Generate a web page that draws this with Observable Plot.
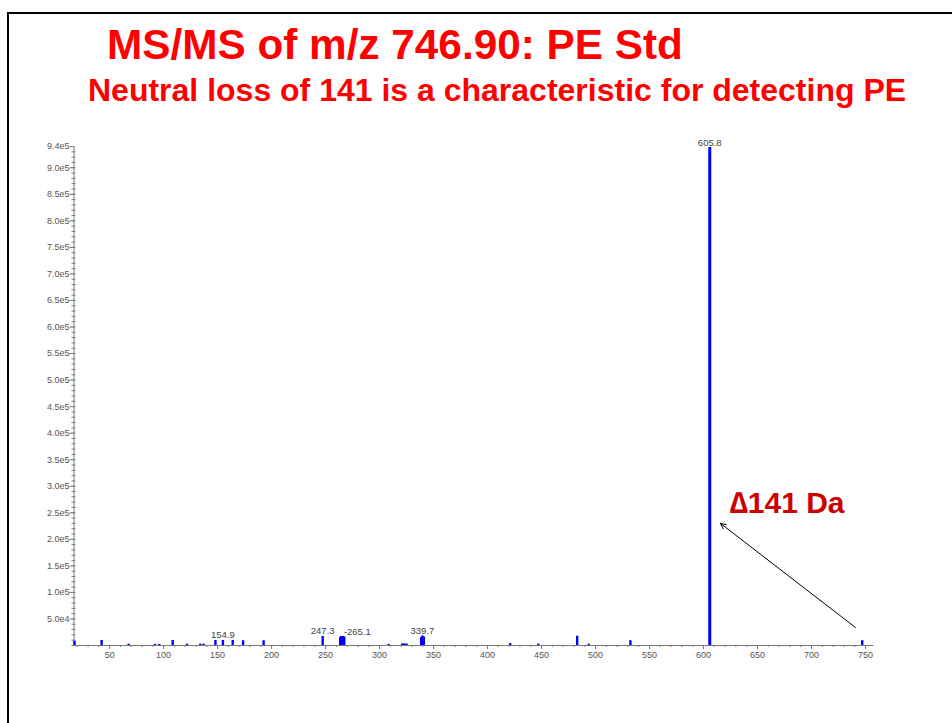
<!DOCTYPE html>
<html>
<head>
<meta charset="utf-8">
<script src="https://cdn.jsdelivr.net/npm/d3@7"></script>
<script src="https://cdn.jsdelivr.net/npm/@observablehq/plot@0.6"></script>
<style>
  html, body { margin: 0; padding: 0; background: #fff; }
  #page { position: relative; width: 952px; height: 723px; overflow: hidden; background: #fff; font-family: "Liberation Sans", Arial, sans-serif; }
  #frame { position: absolute; left: 7px; top: 12px; width: 960px; height: 720px; border-top: 2px solid #000; border-left: 2px solid #000; }
  #title { position: absolute; left: 107px; top: 24px; font-size: 42.3px; line-height: 42px; font-weight: bold; color: #ff0000; white-space: nowrap; }
  #subtitle { position: absolute; left: 88px; top: 74px; font-size: 32px; line-height: 32px; font-weight: bold; color: #ff0000; white-space: nowrap; }
  #chart { position: absolute; left: 0; top: 115px; }
</style>
</head>
<body>
<div id="page">
  <div id="frame"></div>
  <div id="title">MS/MS of m/z 746.90: PE Std</div>
  <div id="subtitle">Neutral loss of 141 is a characteristic for detecting PE</div>
  <div id="chart"></div>
</div>
<script>
// Peak list (m/z, intensity in counts)
const mz = [17.5, 42.6, 67.6, 92, 96, 108.4, 121.7, 134, 137, 148, 154.9, 164, 173.6, 192.6,
            247.3, 263.5, 264.5, 265.1, 266.2, 267.3, 308.4, 321, 323, 325, 338.5, 339.7, 341,
            421, 447, 483, 493.7, 532.3, 605.8, 747];
const intensity = [8000, 9500, 2500, 2000, 2000, 9500, 2500, 2500, 2500, 9500, 9500, 9500, 9000, 9000,
                   17000, 15000, 17000, 17000, 17000, 16000, 2000, 3000, 3000, 2500, 15000, 18000, 16000,
                   3500, 2500, 17500, 2500, 9000, 938000, 9000];

// Labelled peaks
const labelMz = [154.9, 247.3, 339.7, 605.8];
const labelText = ["154.9", "247.3", "339.7", "605.8"];
const leaderLabelMz = [265.1];
const leaderLabelText = ["-265.1"];

// Axis ticks
const yTicks = [5e4, 1e5, 1.5e5, 2e5, 2.5e5, 3e5, 3.5e5, 4e5, 4.5e5, 5e5, 5.5e5, 6e5, 6.5e5, 7e5, 7.5e5, 8e5, 8.5e5, 9e5, 9.4e5];
const yMinor = d3.range(0, 9.4e5, 1e4);
const xTicks = [50, 100, 150, 200, 250, 300, 350, 400, 450, 500, 550, 600, 650, 700, 750];
const xMinor = d3.range(20, 758, 10);

// Annotation
const annText = ["\u2206141 Da"];
const annPos = [{mz: 624, y: 250000}];
const arrowFrom = {mz: 740.7, y: 34000};
const arrowTo = {mz: 615.7, y: 230000};

const peaks = mz.map((m, i) => ({mz: m, intensity: intensity[i]}));
const lookup = m => peaks.find(p => p.mz === m).intensity;
const labels = labelMz.map((m, i) => ({mz: m, intensity: lookup(m), text: labelText[i]}));
const leaderLabels = leaderLabelMz.map((m, i) => ({mz: m, intensity: lookup(m), text: leaderLabelText[i]}));

const fmt = v => v === 9.4e5 ? "9.4e5" : d3.format(".1e")(v).replace("+", "");
const axisColor = "#7a7a7a";
const textColor = "#555";

const chart = Plot.plot({
  width: 952,
  height: 608,
  marginLeft: 73.5,
  marginRight: 78.4,
  marginTop: 31,
  marginBottom: 78,
  style: {background: "transparent", fontFamily: "'Liberation Sans', Arial, sans-serif", overflow: "visible"},
  x: {domain: [17, 758], axis: null},
  y: {domain: [0, 9.4e5], axis: null},
  marks: [
    // axis lines
    Plot.ruleX([17], {stroke: axisColor, strokeWidth: 1}),
    Plot.ruleY([0], {stroke: axisColor, strokeWidth: 1}),
    // y axis
    Plot.axisY({ticks: yMinor, tickSize: 2, text: null, label: null, stroke: axisColor}),
    Plot.axisY({ticks: yMinor, tickSize: 2, text: null, label: null, stroke: axisColor, dx: 2}),
    Plot.axisY({ticks: yTicks, tickSize: 4, tickPadding: 0.5, tickFormat: fmt, label: null, stroke: axisColor, fill: textColor, fontSize: 9}),
    // x axis
    Plot.axisX({ticks: xMinor, tickSize: 2, text: null, label: null, stroke: axisColor}),
    Plot.axisX({ticks: xTicks, tickSize: 4, tickPadding: 2.6, tickFormat: d => String(d), label: null, stroke: axisColor, fill: textColor, fontSize: 9}),
    // peaks
    Plot.ruleX(peaks, {x: "mz", y1: 0, y2: "intensity", stroke: "#0000ff", strokeWidth: d => d.intensity > 5e5 ? 3 : 2.4}),
    // peak labels
    Plot.text(labels, {x: "mz", y: "intensity", text: "text", lineAnchor: "bottom", dy: -2, fill: "#444", fontSize: 9.5}),
    Plot.text(leaderLabels, {x: "mz", y: "intensity", text: "text", lineAnchor: "bottom", textAnchor: "start", dx: 2, dy: -1, fill: "#444", fontSize: 9.5}),
    // annotation
    Plot.arrow([{}], {x1: () => arrowFrom.mz, y1: () => arrowFrom.y, x2: () => arrowTo.mz, y2: () => arrowTo.y, stroke: "#000", strokeWidth: 1, headLength: 9, headAngle: 50}),
    Plot.text(annPos, {x: "mz", y: "y", text: (d, i) => annText[i], textAnchor: "start", lineAnchor: "bottom", fill: "#cc0000", fontSize: 30, fontWeight: "bold"})
  ]
});
document.getElementById("chart").appendChild(chart);
</script>
</body>
</html>
